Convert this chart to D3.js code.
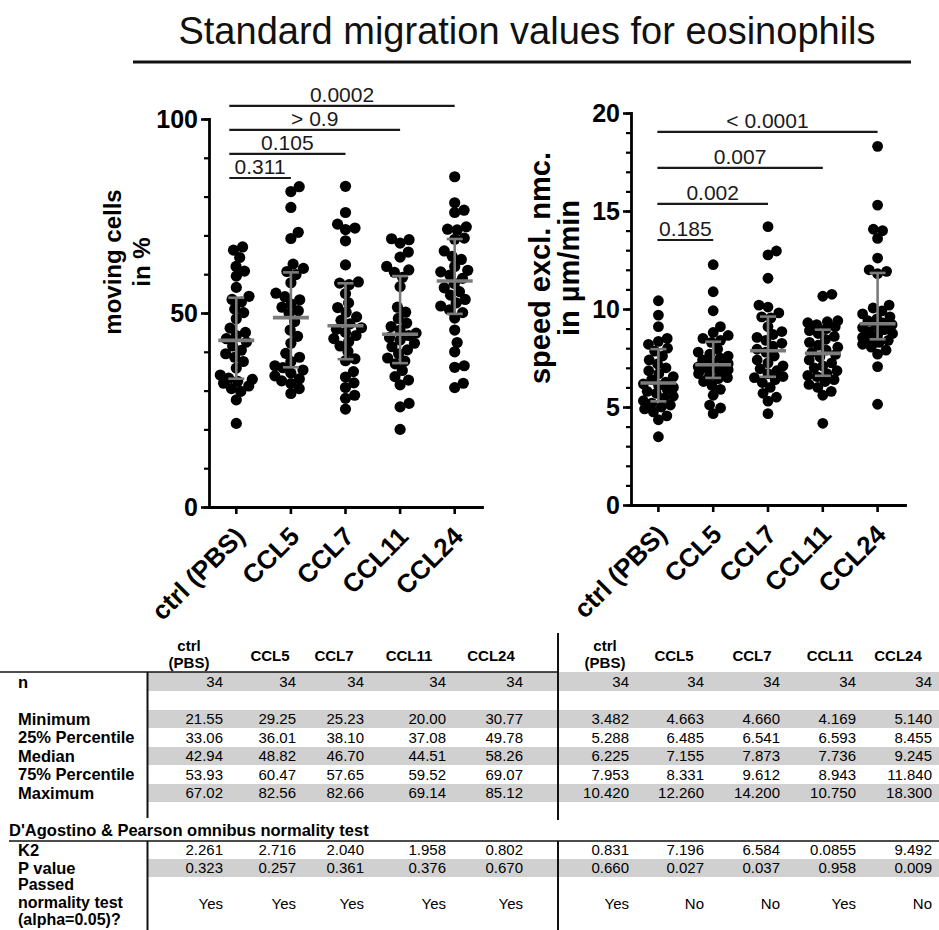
<!DOCTYPE html>
<html>
<head>
<meta charset="utf-8">
<script src="https://cdn.jsdelivr.net/npm/d3@7"></script>
<style>
  html, body { margin: 0; padding: 0; background: #fff; }
  svg { display: block; font-family: 'Liberation Sans', Arial, Helvetica, sans-serif; }
</style>
</head>
<body>
<svg id="fig" width="939" height="930"></svg>
<script>
// ---- groups ----
const categories = ["ctrl (PBS)", "CCL5", "CCL7", "CCL11", "CCL24"];

// ---- moving cells in % (one value per cell track set) ----
const movCtrl  = [21.55, 27.6, 29.8, 30.5, 31.2, 31.9, 32.4, 32.9, 33.2, 34.0, 35.8, 37.5, 38.6, 39.5, 40.4, 41.5, 42.5, 43.38, 44.2, 45.0, 46.1, 48.5, 50.1, 51.0, 52.8, 53.5, 54.3, 56.6, 59.5, 60.8, 62.0, 64.3, 66.2, 67.02];
const movCCL5  = [29.25, 30.5, 31.8, 32.5, 33.0, 33.8, 34.5, 35.3, 35.9, 36.4, 37.5, 38.6, 39.6, 42.2, 44.0, 45.6, 47.8, 49.84, 50.6, 51.5, 52.3, 53.4, 54.2, 55.1, 57.8, 59.9, 60.7, 61.5, 62.6, 69.2, 70.8, 77.2, 81.3, 82.56];
const movCCL7  = [25.23, 28.0, 28.8, 30.8, 32.0, 33.5, 34.9, 37.7, 38.2, 40.1, 41.5, 42.6, 43.4, 44.2, 45.0, 45.8, 46.2, 47.2, 48.1, 49.0, 50.2, 51.4, 52.6, 55.0, 57.3, 57.7, 58.0, 62.4, 68.6, 71.5, 71.9, 72.9, 75.9, 82.66];
const movCCL11 = [20.00, 25.8, 26.7, 31.5, 32.7, 33.6, 35.2, 36.9, 37.6, 38.4, 39.5, 40.5, 41.3, 42.2, 43.0, 43.7, 44.2, 44.82, 45.6, 46.5, 47.4, 48.6, 50.2, 51.5, 56.8, 59.2, 60.5, 61.1, 62.0, 64.4, 65.7, 68.0, 68.9, 69.14];
const movCCL24 = [30.77, 31.9, 36.0, 36.4, 40.0, 42.4, 45.6, 48.7, 50.1, 50.8, 51.8, 52.6, 53.5, 54.6, 55.5, 56.5, 57.6, 58.92, 59.8, 60.6, 61.0, 62.0, 63.8, 64.6, 66.0, 69.0, 69.3, 71.4, 71.6, 72.2, 75.9, 76.5, 78.4, 85.12];

// ---- speed excl. non-moving cells in µm/min ----
const spdCtrl  = [3.482, 4.35, 4.55, 4.75, 4.9, 5.0, 5.1, 5.2, 5.32, 5.45, 5.55, 5.7, 5.8, 5.9, 6.0, 6.1, 6.18, 6.27, 6.4, 6.55, 6.7, 6.85, 7.0, 7.2, 7.4, 7.6, 7.85, 8.0, 8.2, 8.35, 8.5, 9.1, 9.69, 10.42];
const spdCCL5  = [4.663, 4.95, 5.1, 5.6, 5.9, 6.1, 6.3, 6.45, 6.5, 6.6, 6.7, 6.8, 6.9, 6.95, 7.0, 7.05, 7.1, 7.21, 7.3, 7.4, 7.5, 7.6, 7.7, 7.8, 7.95, 8.3, 8.4, 8.5, 8.65, 8.8, 9.1, 9.91, 10.88, 12.26];
const spdCCL7  = [4.66, 5.3, 5.5, 5.7, 6.0, 6.25, 6.4, 6.5, 6.555, 6.7, 6.85, 6.95, 7.1, 7.25, 7.4, 7.6, 7.8, 7.946, 8.1, 8.25, 8.4, 8.55, 8.7, 8.85, 9.1, 9.55, 9.6, 9.8, 10.1, 10.2, 11.57, 12.76, 12.96, 14.2];
const spdCCL11 = [4.169, 5.6, 5.8, 6.0, 6.15, 6.3, 6.4, 6.55, 6.606, 6.7, 6.85, 7.0, 7.1, 7.25, 7.4, 7.55, 7.68, 7.792, 7.9, 8.05, 8.15, 8.3, 8.45, 8.6, 8.75, 8.9, 9.0, 9.1, 9.2, 9.3, 9.35, 9.4, 10.65, 10.75];
const spdCCL24 = [5.14, 7.06, 7.7, 7.9, 8.05, 8.2, 8.3, 8.4, 8.47, 8.55, 8.65, 8.75, 8.85, 8.95, 9.05, 9.15, 9.2, 9.29, 9.4, 9.5, 9.6, 9.75, 9.9, 10.05, 10.2, 11.8, 11.92, 12.0, 12.6, 13.6, 14.0, 14.07, 15.3, 18.3];

// ---- descriptive statistics ----
const nCells = [34, 34, 34, 34, 34];
const movMin = [21.55, 29.25, 25.23, 20.00, 30.77];
const movQ1  = [33.06, 36.01, 38.10, 37.08, 49.78];
const movMed = [42.94, 48.82, 46.70, 44.51, 58.26];
const movQ3  = [53.93, 60.47, 57.65, 59.52, 69.07];
const movMax = [67.02, 82.56, 82.66, 69.14, 85.12];
const spdMin = [3.482, 4.663, 4.660, 4.169, 5.140];
const spdQ1  = [5.288, 6.485, 6.541, 6.593, 8.455];
const spdMed = [6.225, 7.155, 7.873, 7.736, 9.245];
const spdQ3  = [7.953, 8.331, 9.612, 8.943, 11.840];
const spdMax = [10.420, 12.260, 14.200, 10.750, 18.300];

// ---- D'Agostino & Pearson omnibus normality test ----
const movK2 = ["2.261", "2.716", "2.040", "1.958", "0.802"];
const movP  = ["0.323", "0.257", "0.361", "0.376", "0.670"];
const movPassed = ["Yes", "Yes", "Yes", "Yes", "Yes"];
const spdK2 = ["0.831", "7.196", "6.584", "0.0855", "9.492"];
const spdP  = ["0.660", "0.027", "0.037", "0.958", "0.009"];
const spdPassed = ["Yes", "No", "No", "Yes", "No"];

// ---- comparisons against ctrl (PBS) ----
const sigTargets = ["CCL5", "CCL7", "CCL11", "CCL24"];
const movSigP = ["0.311", "0.105", "> 0.9", "0.0002"];
const spdSigP = ["0.185", "0.002", "0.007", "< 0.0001"];

const statLabels = ["Minimum", "25% Percentile", "Median", "75% Percentile", "Maximum"];

const svg = d3.select("#fig");
const BAR = "#7b7b7b";

// title
svg.append("text")
  .attr("x", 527).attr("y", 44)
  .attr("text-anchor", "middle")
  .attr("font-size", 38)
  .attr("fill", "#111")
  .text("Standard migration values for eosinophils");
svg.append("line")
  .attr("x1", 133).attr("x2", 911).attr("y1", 62).attr("y2", 62)
  .attr("stroke", "#111").attr("stroke-width", 3);

// simple beeswarm: place each dot as close to the group centre as possible
function swarm(vals, y, r, maxOff) {
  const d = 2 * r * 0.86;
  const pts = vals.map(v => ({ v, y: y(v), x: 0 })).sort((a, b) => b.y - a.y);
  const placed = [];
  for (const p of pts) {
    const near = placed.filter(q => Math.abs(q.y - p.y) < d);
    let cands = [0];
    near.forEach(q => {
      const dx = Math.sqrt(d * d - (q.y - p.y) ** 2);
      cands.push(q.x + dx, q.x - dx);
    });
    cands = cands.filter(c => Math.abs(c) <= maxOff + 1e-6);
    cands.sort((a, b) => Math.abs(a) - Math.abs(b));
    const ok = c => near.every(q => (c - q.x) ** 2 + (q.y - p.y) ** 2 >= d * d - 1e-3);
    let best = cands.find(ok);
    if (best === undefined) {
      let bestScore = -Infinity;
      for (const c of cands.concat([-maxOff, maxOff])) {
        const s = Math.min(...near.map(q => (c - q.x) ** 2 + (q.y - p.y) ** 2));
        if (s > bestScore) { bestScore = s; best = c; }
      }
    }
    p.x = best;
    placed.push(p);
  }
  return pts;
}

const panels = [
  {
    series: [movCtrl, movCCL5, movCCL7, movCCL11, movCCL24],
    q1: movQ1, med: movMed, q3: movQ3,
    yDomain: [0, 100], yRange: [507, 119], xRange: [209, 482],
    major: [0, 50, 100], minor: d3.range(0, 101, 10),
    r: 5.6, maxOff: 16,
    sigP: movSigP, sigBase: 84.8, sigStep: 6.2, sigStart: -7,
    label: ["moving cells", "in %"], labelX: [121, 150], labelY: 262, labelSize: 24
  },
  {
    series: [spdCtrl, spdCCL5, spdCCL7, spdCCL11, spdCCL24],
    q1: spdQ1, med: spdMed, q3: spdQ3,
    yDomain: [0, 20], yRange: [505, 113], xRange: [631, 905],
    major: [0, 5, 10, 15, 20], minor: d3.range(0, 21, 1),
    r: 5.4, maxOff: 15,
    sigP: spdSigP, sigBase: 13.52, sigStep: 1.84, sigStart: -1,
    label: ["speed excl. nmc.", "in µm/min"], labelX: [550, 579], labelY: 268, labelSize: 29
  }
];

panels.forEach(P => {
  const g = svg.append("g");
  const y = d3.scaleLinear().domain(P.yDomain).range(P.yRange);
  const x = d3.scaleBand().domain(categories).range(P.xRange).paddingInner(0).paddingOuter(0);
  const xc = c => x(c) + x.bandwidth() / 2;
  const y0 = P.yRange[0];
  const xAxisX = P.xRange[0];

  // minor ticks
  g.append("g")
    .attr("transform", `translate(${xAxisX},0)`)
    .call(d3.axisLeft(y).tickValues(P.minor).tickSize(5).tickFormat(""))
    .call(a => a.select(".domain").remove())
    .call(a => a.selectAll("line").attr("stroke", "#000").attr("stroke-width", 2.2));

  // major ticks + labels
  g.append("g")
    .attr("transform", `translate(${xAxisX},0)`)
    .call(d3.axisLeft(y).tickValues(P.major).tickSize(8).tickPadding(3).tickSizeOuter(0))
    .call(a => a.select(".domain").attr("stroke", "#000").attr("stroke-width", 2.8).attr("stroke-linecap", "square"))
    .call(a => a.selectAll("line").attr("stroke", "#000").attr("stroke-width", 2.6))
    .call(a => a.selectAll("text")
      .attr("font-size", 25).attr("font-weight", "bold").attr("fill", "#000")
      .attr("font-family", "'Liberation Sans', Arial, sans-serif"));

  // x axis
  g.append("g")
    .attr("transform", `translate(0,${y0})`)
    .call(d3.axisBottom(x).tickSize(7).tickSizeOuter(0).tickFormat(""))
    .call(a => a.select(".domain").attr("stroke", "#000").attr("stroke-width", 2.8).attr("stroke-linecap", "square"))
    .call(a => a.selectAll("line").attr("stroke", "#000").attr("stroke-width", 2.6));

  // rotated category labels
  g.selectAll(".cat")
    .data(categories)
    .join("text")
    .attr("class", "cat")
    .attr("transform", c => `translate(${xc(c) + 10},${y0 + 31}) rotate(-45)`)
    .attr("text-anchor", "end")
    .attr("font-size", 26).attr("font-weight", "bold").attr("fill", "#000")
    .text(c => c);

  // y-axis title (two lines)
  P.label.forEach((t, i) => {
    g.append("text")
      .attr("transform", `translate(${P.labelX[i]},${P.labelY}) rotate(-90)`)
      .attr("text-anchor", "middle")
      .attr("font-size", P.labelSize).attr("font-weight", "bold").attr("fill", "#000")
      .text(t);
  });

  // dots
  categories.forEach((c, i) => {
    const pts = swarm(P.series[i], y, P.r, P.maxOff);
    g.append("g").selectAll("circle")
      .data(pts)
      .join("circle")
      .attr("cx", d => xc(c) + d.x)
      .attr("cy", d => d.y)
      .attr("r", P.r)
      .attr("fill", "#000");
  });

  // median with interquartile range
  categories.forEach((c, i) => {
    const cx = xc(c);
    const eg = g.append("g").attr("stroke", BAR).attr("fill", "none");
    eg.append("line").attr("x1", cx).attr("x2", cx)
      .attr("y1", y(P.q1[i])).attr("y2", y(P.q3[i])).attr("stroke-width", 2.6);
    [P.q1[i], P.q3[i]].forEach(v => {
      eg.append("line").attr("x1", cx - 8).attr("x2", cx + 8)
        .attr("y1", y(v)).attr("y2", y(v)).attr("stroke-width", 2.6);
    });
    eg.append("line").attr("x1", cx - 18).attr("x2", cx + 18)
      .attr("y1", y(P.med[i])).attr("y2", y(P.med[i])).attr("stroke-width", 3.6);
  });

  // significance brackets against ctrl (PBS)
  sigTargets.forEach((t, k) => {
    const yy = y(P.sigBase + k * P.sigStep);
    const xa = xc(categories[0]) + P.sigStart;
    const xb = xc(t);
    g.append("line").attr("x1", xa).attr("x2", xb).attr("y1", yy).attr("y2", yy)
      .attr("stroke", "#1a1a1a").attr("stroke-width", 2.2);
    g.append("text")
      .attr("x", (xa + xb) / 2).attr("y", yy - 4)
      .attr("text-anchor", "middle")
      .attr("font-size", 21).attr("fill", "#1a1a1a")
      .text(P.sigP[k]);
  });
});

// ---- statistics table ----
const T = svg.append("g").attr("fill", "#000");
const GREY = "#d0d0d0";
const leftEdge = [223, 296, 364, 446, 523];
const rightEdge = [629, 704, 780, 856, 932];
const leftHead = [189, 270, 334, 409, 491];
const rightHead = [605, 674, 752, 830, 898];

const rowY = { n: 682, stat: [719, 737.5, 756, 774.5, 793], dag: 830, k2: 850, p: 868, passed: [884, 902, 919.5], yes: 904 };

// grey bands
[[672, 691], [710, 728], [747, 765], [784, 802], [859, 877]].forEach(([a, b]) => {
  T.append("rect").attr("x", 148).attr("y", a).attr("width", 939 - 148).attr("height", b - a).attr("fill", GREY);
});

// rules
T.append("line").attr("x1", 0).attr("x2", 558).attr("y1", 672).attr("y2", 672).attr("stroke", "#111").attr("stroke-width", 1.6);
T.append("line").attr("x1", 9).attr("x2", 939).attr("y1", 841).attr("y2", 841).attr("stroke", "#111").attr("stroke-width", 1.6);
[[147.5, 672, 818], [147.5, 841, 930], [558, 633, 820], [558, 841, 930]].forEach(([xx, a, b]) => {
  T.append("line").attr("x1", xx).attr("x2", xx).attr("y1", a).attr("y2", b).attr("stroke", "#111").attr("stroke-width", 2);
});

function cell(x, yc, txt, anchor, bold, size) {
  T.append("text")
    .attr("x", x).attr("y", yc + size * 0.36)
    .attr("text-anchor", anchor)
    .attr("font-size", size)
    .attr("font-weight", bold ? "bold" : "normal")
    .text(txt);
}

// column headers
[leftHead, rightHead].forEach(hx => {
  categories.forEach((c, i) => {
    const parts = c.split(" ");
    if (parts.length > 1) {
      cell(hx[i], 646, parts[0], "middle", true, 15);
      cell(hx[i], 663, parts[1], "middle", true, 15);
    } else {
      cell(hx[i], 656, c, "middle", true, 15);
    }
  });
});

// row labels
const LBL = 16.5;
cell(18, rowY.n, "n", "start", true, LBL);
statLabels.forEach((s, i) => cell(18, rowY.stat[i], s, "start", true, LBL));
cell(9, rowY.dag, "D'Agostino & Pearson omnibus normality test", "start", true, LBL);
cell(18, rowY.k2, "K2", "start", true, LBL);
cell(18, rowY.p, "P value", "start", true, LBL);
["Passed", "normality test", "(alpha=0.05)?"].forEach((s, i) => cell(18, rowY.passed[i], s, "start", true, 16));

// values
const blocks = [
  { edge: leftEdge, stats: [movMin, movQ1, movMed, movQ3, movMax], dec: 2, k2: movK2, p: movP, passed: movPassed },
  { edge: rightEdge, stats: [spdMin, spdQ1, spdMed, spdQ3, spdMax], dec: 3, k2: spdK2, p: spdP, passed: spdPassed }
];
blocks.forEach(B => {
  B.edge.forEach((ex, i) => {
    cell(ex, rowY.n, String(nCells[i]), "end", false, 15);
    B.stats.forEach((arr, r) => cell(ex, rowY.stat[r], arr[i].toFixed(B.dec), "end", false, 15));
    cell(ex, rowY.k2, B.k2[i], "end", false, 15);
    cell(ex, rowY.p, B.p[i], "end", false, 15);
    cell(ex, rowY.yes, B.passed[i], "end", false, 15);
  });
});
</script>
</body>
</html>
